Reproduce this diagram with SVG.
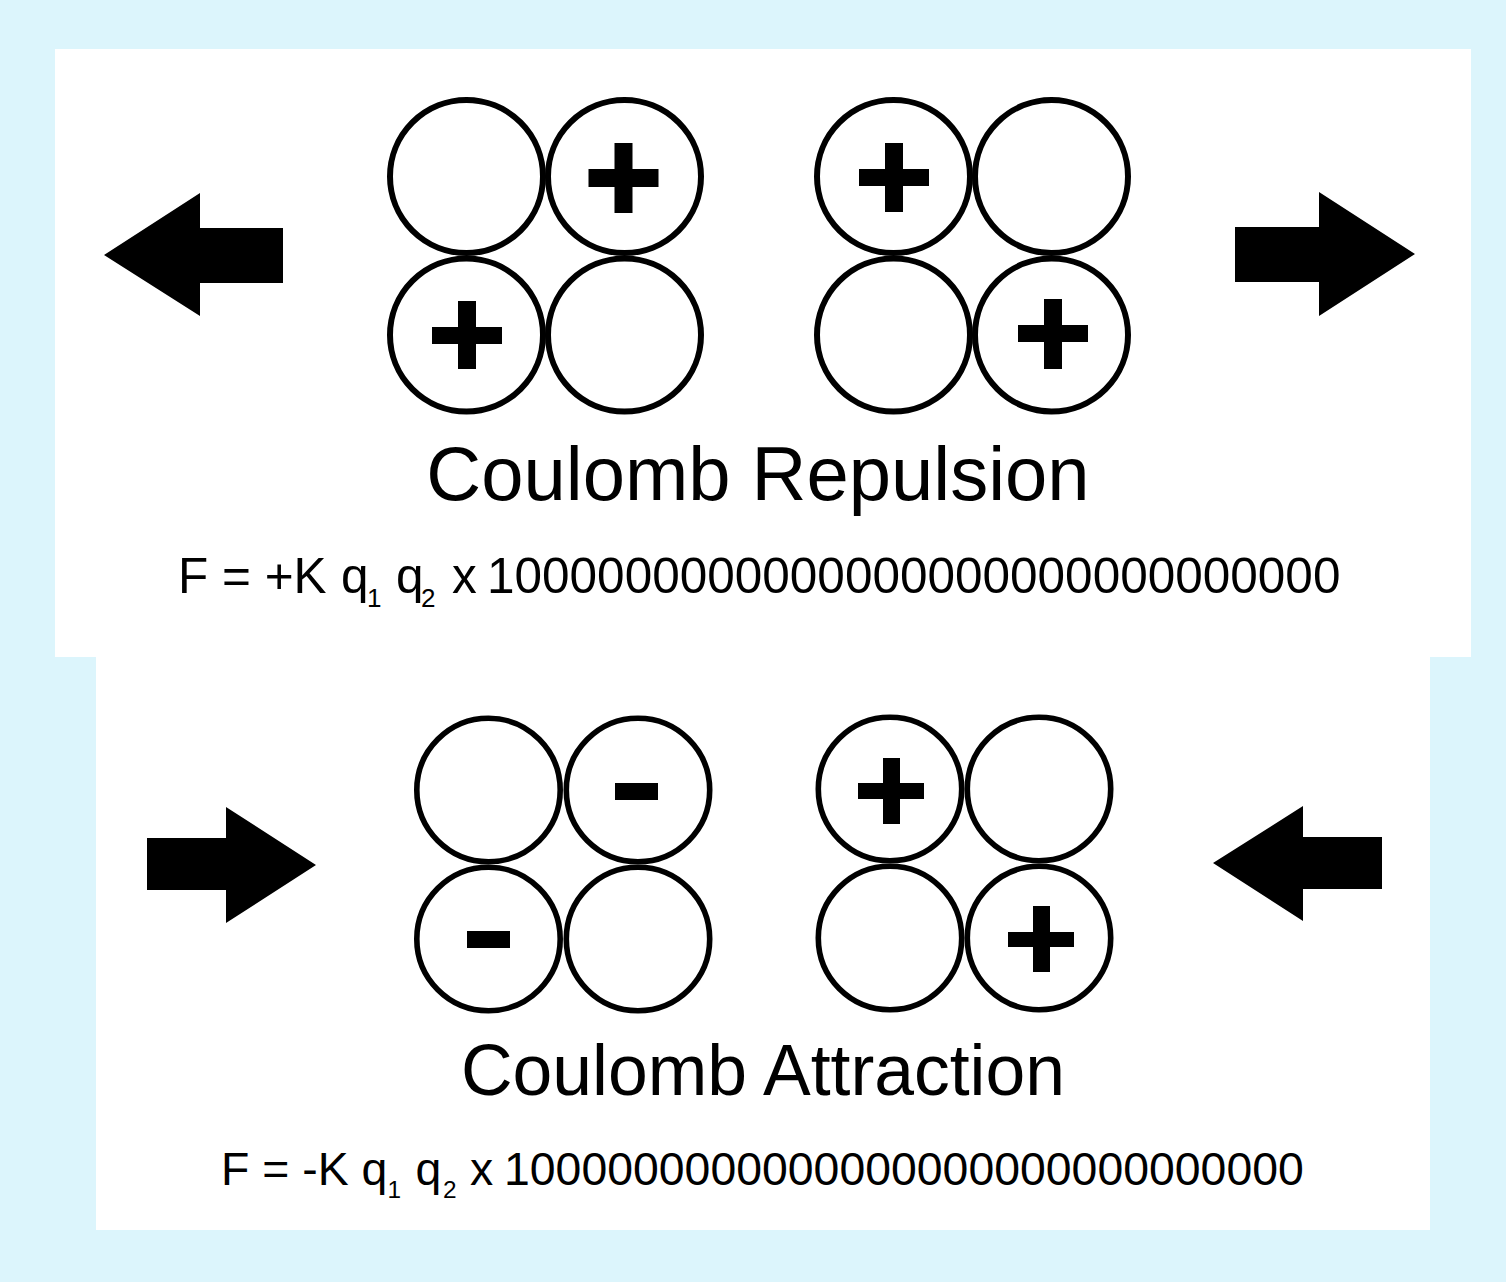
<svg xmlns="http://www.w3.org/2000/svg" width="1506" height="1282" viewBox="0 0 1506 1282">
  <style>
    .panel { fill: #ffffff; }
    .ball { fill: #ffffff; stroke: #000000; stroke-width: 6; }
    .ball2 { fill: #ffffff; stroke: #000000; stroke-width: 5.6; }
    .sign { fill: #000000; }
    .arrow { fill: #000000; }
    .txt { font-family: "Liberation Sans", Arial, Helvetica, sans-serif; fill: #000000; }
  </style>
  <rect x="0" y="0" width="1506" height="1282" fill="#DCF5FC"/>
  <rect class="panel" x="55" y="49" width="1416" height="608"/>
  <rect class="panel" x="96" y="656" width="1334" height="574"/>

  <g id="connectors">
    <polygon id="arrow-repel-left" class="arrow" points="104,255 200,193 200,228 283,228 283,283 200,283 200,316"/>
    <polygon id="arrow-repel-right" class="arrow" points="1415,254 1319,192 1319,227 1235,227 1235,282 1319,282 1319,316"/>
    <polygon id="arrow-attract-left" class="arrow" points="316,865 226,807 226,838 147,838 147,890 226,890 226,923"/>
    <polygon id="arrow-attract-right" class="arrow" points="1213,863 1303,806 1303,837 1382,837 1382,889 1303,889 1303,921"/>
  </g>

  <g id="nucleus-repel-1">
    <circle class="ball" cx="466.5" cy="176.5" r="76.5"/>
    <circle class="ball" cx="624.5" cy="176.5" r="76.5"/>
    <circle class="ball" cx="466.5" cy="335" r="76.5"/>
    <circle class="ball" cx="624.5" cy="335" r="76.5"/>
    <path class="sign" d="M614.5,143h18v26h26v18h-26v26h-18v-26h-26v-18h26z"/>
    <path class="sign" d="M458,301h18v26h26v17h-26v25h-18v-25h-26v-17h26z"/>
  </g>

  <g id="nucleus-repel-2">
    <circle class="ball" cx="893.5" cy="176.5" r="76.5"/>
    <circle class="ball" cx="1051.5" cy="176.5" r="76.5"/>
    <circle class="ball" cx="893.5" cy="335" r="76.5"/>
    <circle class="ball" cx="1051.5" cy="335" r="76.5"/>
    <path class="sign" d="M885,143h18v26h26v17h-26v26h-18v-26h-26v-17h26z"/>
    <path class="sign" d="M1044,299h18v26h26v17h-26v27h-18v-27h-26v-17h26z"/>
  </g>

  <g id="label-repulsion">
    <text class="txt" x="758" y="500" font-size="76" text-anchor="middle">Coulomb Repulsion</text>
    <text class="txt" font-size="49.5"><tspan x="178" y="593">F = +K</tspan><tspan x="341" y="593">q</tspan><tspan x="367" y="607" font-size="26">1</tspan><tspan x="396" y="593">q</tspan><tspan x="421" y="607" font-size="26">2</tspan><tspan x="452" y="593">x</tspan><tspan x="487" y="593">1000000000000000000000000000000</tspan></text>
  </g>

  <g id="nucleus-attract-1">
    <circle class="ball2" cx="488.5" cy="790" r="71.7"/>
    <circle class="ball2" cx="638" cy="790" r="71.7"/>
    <circle class="ball2" cx="488.5" cy="939" r="71.7"/>
    <circle class="ball2" cx="638" cy="939" r="71.7"/>
    <rect class="sign" x="615" y="783" width="43" height="17"/>
    <rect class="sign" x="467" y="931" width="43" height="17"/>
  </g>

  <g id="nucleus-attract-2">
    <circle class="ball2" cx="890" cy="789" r="71.7"/>
    <circle class="ball2" cx="1039" cy="789" r="71.7"/>
    <circle class="ball2" cx="890" cy="938" r="71.7"/>
    <circle class="ball2" cx="1039" cy="938" r="71.7"/>
    <path class="sign" d="M883,758h17v25h24v16h-24v25h-17v-25h-25v-16h25z"/>
    <path class="sign" d="M1033,906h17v26h24v15h-24v25h-17v-25h-25v-15h25z"/>
  </g>

  <g id="label-attraction">
    <text class="txt" x="763" y="1095" font-size="71.5" text-anchor="middle">Coulomb Attraction</text>
    <text class="txt" font-size="46.4"><tspan x="221" y="1185">F = -K</tspan><tspan x="361.5" y="1185">q</tspan><tspan x="387.5" y="1198" font-size="24.4">1</tspan><tspan x="415.5" y="1185">q</tspan><tspan x="443" y="1198" font-size="24.4">2</tspan><tspan x="470" y="1185">x</tspan><tspan x="504" y="1185">1000000000000000000000000000000</tspan></text>
  </g>
</svg>
